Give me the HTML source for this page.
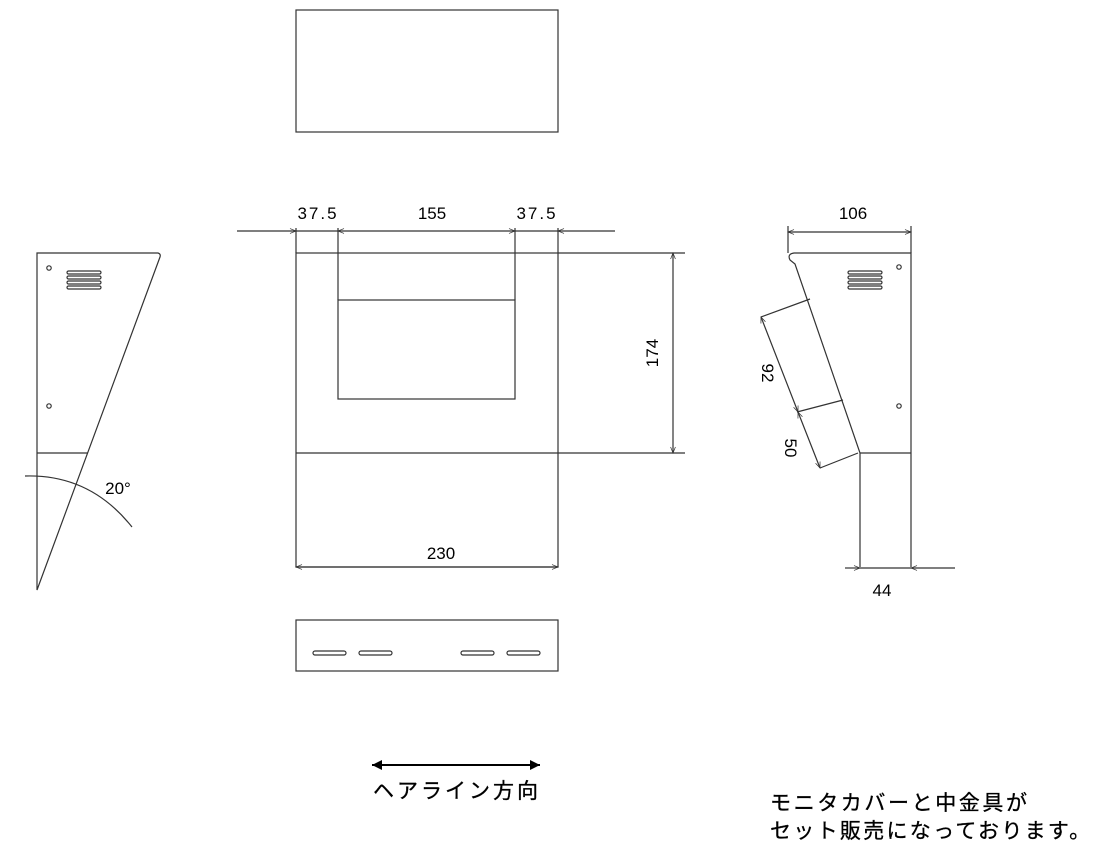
<!DOCTYPE html>
<html><head><meta charset="utf-8"><style>
html,body{margin:0;padding:0;background:#fff;}
svg{display:block}
text{font-family:"Liberation Sans","Noto Sans CJK JP",sans-serif;fill:#000}
</style></head><body>
<svg width="1100" height="854" viewBox="0 0 1100 854" xmlns="http://www.w3.org/2000/svg">
<defs>
<marker id="a" viewBox="0 0 10 10" refX="10" refY="5" markerWidth="8" markerHeight="6" orient="auto-start-reverse" markerUnits="userSpaceOnUse"><path d="M0,1 L10,5 L0,9" fill="none" stroke="#333" stroke-width="1.2"/></marker>
<marker id="b" viewBox="0 0 10 10" refX="10" refY="5" markerWidth="14" markerHeight="10" orient="auto-start-reverse" markerUnits="userSpaceOnUse"><path d="M0,0 L10,5 L0,10 z" fill="#000"/></marker>
</defs>
<g fill="none" stroke="#333" stroke-width="1.2">
<rect x="296" y="10" width="262" height="122"/>
<rect x="296" y="253" width="262" height="314"/>
<line x1="296" y1="453" x2="558" y2="453"/>
<rect x="338" y="300" width="177" height="99"/>
<line x1="296" y1="228" x2="296" y2="253"/>
<line x1="338" y1="228" x2="338" y2="300"/>
<line x1="515" y1="228" x2="515" y2="300"/>
<line x1="558" y1="228" x2="558" y2="253"/>
<line x1="237" y1="231" x2="296" y2="231" marker-end="url(#a)"/>
<line x1="338" y1="231" x2="515" y2="231" marker-start="url(#a)" marker-end="url(#a)"/>
<line x1="615" y1="231" x2="558" y2="231" marker-end="url(#a)"/>
<line x1="296" y1="231" x2="338" y2="231"/>
<line x1="515" y1="231" x2="558" y2="231"/>
<line x1="558" y1="253" x2="685" y2="253"/>
<line x1="558" y1="453" x2="685" y2="453"/>
<line x1="673" y1="253" x2="673" y2="453" marker-start="url(#a)" marker-end="url(#a)"/>
<line x1="296" y1="567" x2="558" y2="567" marker-start="url(#a)" marker-end="url(#a)"/>
<rect x="296" y="620" width="262" height="51"/>
<rect x="313" y="651" width="33" height="4" rx="2"/>
<rect x="359" y="651" width="33" height="4" rx="2"/>
<rect x="461" y="651" width="33" height="4" rx="2"/>
<rect x="507" y="651" width="33" height="4" rx="2"/>
<path d="M37,590 L37,253 L158,253 Q161,254 160,257 Z"/>
<line x1="37" y1="453" x2="88" y2="453"/>
<circle cx="49" cy="268" r="2.2"/>
<circle cx="49" cy="406" r="2.2"/>
<rect x="67" y="271" width="34" height="3" rx="1.5"/>
<rect x="67" y="276" width="34" height="3" rx="1.5"/>
<rect x="67" y="281" width="34" height="3" rx="1.5"/>
<rect x="67" y="286" width="34" height="3" rx="1.5"/>
<path d="M25,476 Q90,474 132,527"/>
<path d="M911,567 L911,253 L794,253 Q787,254 790,260 L795,264 L860,453 L860,567"/>
<line x1="860" y1="453" x2="911" y2="453"/>
<circle cx="899" cy="267" r="2.2"/>
<circle cx="899" cy="406" r="2.2"/>
<rect x="848" y="271" width="34" height="3" rx="1.5"/>
<rect x="848" y="276" width="34" height="3" rx="1.5"/>
<rect x="848" y="281" width="34" height="3" rx="1.5"/>
<rect x="848" y="286" width="34" height="3" rx="1.5"/>
<line x1="788" y1="226" x2="788" y2="253"/>
<line x1="911" y1="226" x2="911" y2="253"/>
<line x1="788" y1="232" x2="911" y2="232" marker-start="url(#a)" marker-end="url(#a)"/>
<line x1="810" y1="299" x2="761" y2="317"/>
<line x1="843" y1="400" x2="797" y2="412"/>
<line x1="858" y1="453" x2="820" y2="468"/>
<line x1="761" y1="317" x2="798" y2="412" marker-start="url(#a)" marker-end="url(#a)"/>
<line x1="798" y1="412" x2="820" y2="468" marker-start="url(#a)" marker-end="url(#a)"/>
<line x1="845" y1="568" x2="860" y2="568" marker-end="url(#a)"/>
<line x1="860" y1="568" x2="911" y2="568"/>
<line x1="955" y1="568" x2="911" y2="568" marker-end="url(#a)"/>
</g>
<line x1="372" y1="765" x2="540" y2="765" stroke="#000" stroke-width="2" marker-start="url(#b)" marker-end="url(#b)"/>
<g font-size="17">
<text x="318" y="219" text-anchor="middle" letter-spacing="2">37.5</text>
<text x="432" y="219" text-anchor="middle">155</text>
<text x="537" y="219" text-anchor="middle" letter-spacing="2">37.5</text>
<text x="441" y="559" text-anchor="middle">230</text>
<text transform="translate(658,353) rotate(-90)" text-anchor="middle">174</text>
<text x="853" y="219" text-anchor="middle">106</text>
<text x="882" y="596" text-anchor="middle">44</text>
<text x="118" y="494" text-anchor="middle">20°</text>
<text transform="translate(762,373) rotate(90)" text-anchor="middle">92</text>
<text transform="translate(785,448) rotate(90)" text-anchor="middle">50</text>
</g>
<g font-size="21" stroke="#000" stroke-width="0.3">
<text x="373" y="798" letter-spacing="3">ヘアライン方向</text>
<text x="770" y="810" letter-spacing="2.6">モニタカバーと中金具が</text>
<text x="770" y="838" letter-spacing="2.3">セット販売になっております。</text>
</g>
</svg>
</body></html>
